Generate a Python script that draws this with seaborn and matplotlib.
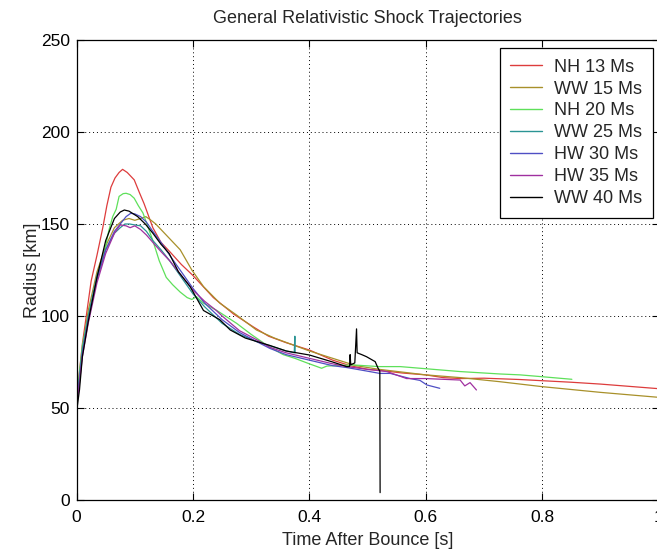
import matplotlib
matplotlib.use("Agg")
import matplotlib.pyplot as plt
import seaborn as sns
import pandas as pd
from matplotlib.lines import Line2D

labels = ["NH 13 Ms", "WW 15 Ms", "NH 20 Ms", "WW 25 Ms", "HW 30 Ms", "HW 35 Ms", "WW 40 Ms"]
colors = ["#dd3c3c", "#a8902a", "#5ee05a", "#2a9494", "#4f4fc4", "#a030a0", "#000000"]

nh13_t = [0, 0.01, 0.025, 0.035, 0.045, 0.052, 0.059, 0.066, 0.073, 0.079, 0.087, 0.099, 0.108, 0.116, 0.131, 0.145, 0.16, 0.18, 0.2, 0.235, 0.27, 0.304, 0.33, 0.36, 0.4, 0.44, 0.47, 0.5, 0.52, 0.56, 0.6, 0.63, 0.66, 0.7, 0.76, 0.85, 0.9, 1.0]
nh13_r = [55, 85, 119, 133, 148, 160, 170, 175, 178, 179.7, 178, 174, 167, 161, 148, 140, 135, 128, 122, 110, 101, 94, 89, 85.5, 81.5, 76, 73, 71, 70.5, 69, 68, 66.5, 66, 66.2, 65.5, 64, 63, 60.5]

ww15_t = [0, 0.01, 0.02, 0.035, 0.05, 0.065, 0.079, 0.09, 0.1, 0.11, 0.119, 0.128, 0.136, 0.148, 0.16, 0.178, 0.198, 0.218, 0.246, 0.275, 0.309, 0.34, 0.37, 0.4, 0.44, 0.48, 0.52, 0.6, 0.66, 0.727, 0.8, 0.9, 1.0]
ww15_r = [53, 82, 103, 124, 138, 148, 152, 153, 152, 153, 154, 152, 150, 146, 142, 136, 125, 116, 107, 100.5, 92.4, 88, 84.5, 81, 77, 73, 71, 68, 66.5, 64.3, 61.6, 58.5, 55.8]

nh20_t = [0, 0.01, 0.02, 0.035, 0.045, 0.055, 0.062, 0.068, 0.073, 0.08, 0.085, 0.092, 0.099, 0.106, 0.114, 0.122, 0.131, 0.142, 0.154, 0.165, 0.178, 0.19, 0.198, 0.206, 0.218, 0.241, 0.275, 0.3, 0.332, 0.355, 0.375, 0.4, 0.421, 0.43, 0.475, 0.52, 0.556, 0.659, 0.727, 0.762, 0.8, 0.851]
nh20_r = [55, 84, 100, 120, 130, 146, 154, 158, 165, 166.5, 166.7, 166, 164, 160, 156, 149, 141, 130, 121, 117, 113, 110, 109, 110.5, 107, 103, 96, 90, 83, 79, 77, 74, 71.6, 72.8, 73.4, 72.5, 72.5, 69.8, 68.5, 68, 67, 65.6]

ww25_t = [0, 0.01, 0.02, 0.035, 0.05, 0.065, 0.075, 0.083, 0.091, 0.1, 0.11, 0.12, 0.131, 0.145, 0.16, 0.18, 0.2, 0.22, 0.25, 0.28, 0.31, 0.34, 0.36, 0.374, 0.375, 0.3755]
ww25_r = [52, 82, 100, 122, 136, 145, 148, 150, 150, 149.5, 149, 146, 141, 136, 130, 121, 112, 105, 96, 90, 86, 83, 81, 80, 89, 80]

hw30_t = [0, 0.01, 0.02, 0.035, 0.05, 0.065, 0.075, 0.085, 0.093, 0.1, 0.11, 0.12, 0.131, 0.145, 0.16, 0.18, 0.2, 0.22, 0.25, 0.28, 0.31, 0.332, 0.36, 0.4, 0.44, 0.464, 0.5, 0.521, 0.539, 0.573, 0.59, 0.602, 0.624]
hw30_r = [52, 80, 98, 120, 136, 146, 150, 154, 155.8, 155.5, 154, 151, 146, 140, 133, 124, 115, 107, 98, 91, 86, 82.4, 79, 76, 73, 72, 70, 68.8, 68.8, 66, 65, 62.5, 60.7]

hw35_t = [0, 0.01, 0.02, 0.035, 0.05, 0.065, 0.075, 0.085, 0.092, 0.1, 0.11, 0.12, 0.131, 0.145, 0.16, 0.18, 0.2, 0.22, 0.24, 0.25, 0.28, 0.31, 0.332, 0.36, 0.4, 0.44, 0.464, 0.5, 0.533, 0.567, 0.6, 0.659, 0.667, 0.676, 0.687]
hw35_r = [50, 78, 96, 118, 134, 145, 149.5, 149, 148, 149, 147, 144, 140, 135, 130, 122, 114, 108, 103, 100, 92, 87, 83, 80, 77, 74, 72.5, 71, 69.8, 66, 66, 65.2, 62, 63.8, 59.8]

ww40_t = [0, 0.005, 0.01, 0.02, 0.035, 0.05, 0.065, 0.075, 0.082, 0.09, 0.105, 0.118, 0.131, 0.145, 0.159, 0.175, 0.195, 0.218, 0.246, 0.264, 0.29, 0.332, 0.36, 0.4, 0.44, 0.464, 0.469, 0.47, 0.471, 0.478, 0.481, 0.482, 0.49, 0.498, 0.513, 0.518, 0.521, 0.5215]
ww40_r = [48, 60, 78, 97, 121, 141, 153, 156.5, 157.6, 157, 154, 150, 145, 139, 134, 124, 116, 103, 98, 92.4, 88, 84, 81, 78.8, 75, 72.5, 72.5, 79, 73.5, 74.5, 93, 80, 79, 77.9, 75.2, 71.6, 70, 4]

series = [(nh13_t, nh13_r), (ww15_t, ww15_r), (nh20_t, nh20_r), (ww25_t, ww25_r),
          (hw30_t, hw30_r), (hw35_t, hw35_r), (ww40_t, ww40_r)]

frames = []
for lab, (t, r) in zip(labels, series):
    frames.append(pd.DataFrame({"t": t, "r": r, "model": lab}))
df = pd.concat(frames, ignore_index=True)

sns.set_theme(style="white")
plt.rcParams["font.family"] = ["Liberation Sans", "DejaVu Sans"]

fig = plt.figure(figsize=(6.57, 5.5), dpi=100)
ax = fig.add_axes([76.6 / 657, 50 / 550, 582 / 657, 460 / 550])

sns.lineplot(data=df, x="t", y="r", hue="model", hue_order=labels,
             palette=dict(zip(labels, colors)), estimator=None, sort=False,
             units="model", linewidth=0.9, ax=ax, legend=False)

ax.set_xlim(0, 1)
ax.set_ylim(0, 250)
ax.set_xticks([0, 0.2, 0.4, 0.6, 0.8, 1.0])
ax.set_xticklabels(["0", "0.2", "0.4", "0.6", "0.8", "1"])
ax.set_yticks([0, 50, 100, 150, 200, 250])
ax.grid(True, linestyle=(0, (1, 3)), color="black", linewidth=0.7)
ax.tick_params(direction="in", length=5, width=0.8, colors="black", labelsize=12.5,
               top=True, right=True, bottom=True, left=True, pad=5)
ax.tick_params(axis="x", pad=7)
for s in ax.spines.values():
    s.set_color("black")
    s.set_linewidth(0.9)
    s.set_visible(True)

ax.set_title("General Relativistic Shock Trajectories", fontsize=13, pad=12)
ax.set_xlabel("Time After Bounce [s]", fontsize=13, labelpad=5)
ax.set_ylabel("Radius [km]", fontsize=13, labelpad=0)

handles = [Line2D([], [], color=c, linewidth=1.0) for c in colors]
leg = ax.legend(handles, labels, loc="upper right", bbox_to_anchor=(0.99, 0.983),
                fontsize=13, frameon=True, fancybox=False, framealpha=1,
                edgecolor="black", handlelength=1.75, handletextpad=0.65,
                labelspacing=0.27, borderpad=0.6, borderaxespad=0)
leg.get_frame().set_linewidth(0.9)

fig.savefig("out.png", dpi=100)
